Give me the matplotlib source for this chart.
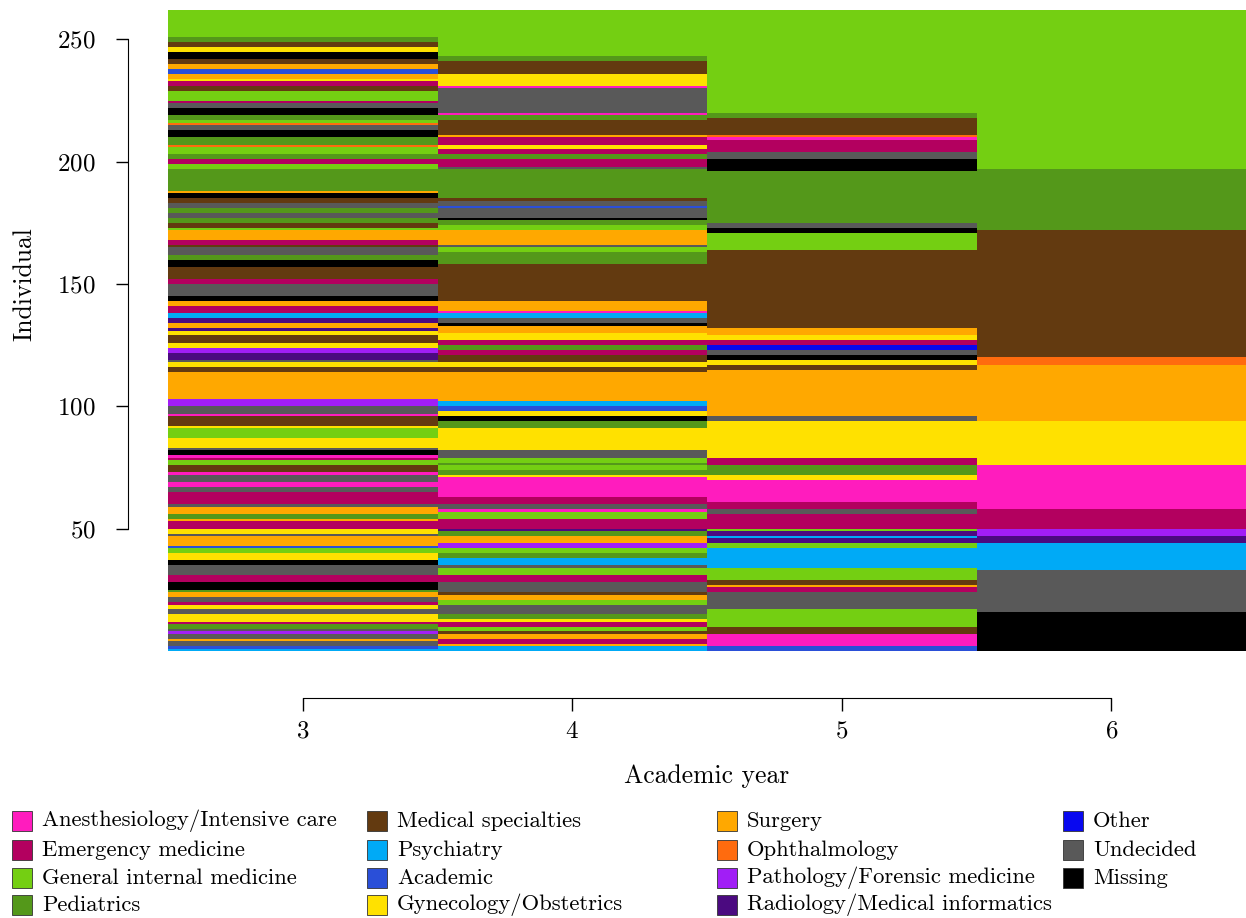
import matplotlib
matplotlib.use("Agg")
import matplotlib.pyplot as plt
from matplotlib.patches import Rectangle

plt.rcParams['font.family'] = ['cmr10', 'DejaVu Serif']
plt.rcParams['axes.formatter.use_mathtext'] = True

# state codes, legend labels and colours
codes = ["A", "E", "G", "P", "M", "S", "C", "Y", "U", "O", "T", "R", "H", "D", "X"]
labels = ["Anesthesiology/Intensive care", "Emergency medicine", "General internal medicine",
          "Pediatrics", "Medical specialties", "Psychiatry", "Academic", "Gynecology/Obstetrics",
          "Surgery", "Ophthalmology", "Pathology/Forensic medicine", "Radiology/Medical informatics",
          "Other", "Undecided", "Missing"]
colors = ["#FF1CBE", "#B3005F", "#74CF12", "#54981A", "#633A10", "#00AAF6", "#2A4FD8", "#FFE100",
          "#FFA800", "#FF6B0E", "#A11EF6", "#4B0A80", "#0808F0", "#595959", "#000000"]

years = [3, 4, 5, 6]

# sequences as runs (state, number of individuals), from individual 1 upwards
year3 = [("S", 1), ("C", 1), ("D", 2), ("U", 1), ("D", 2), ("T", 1), ("D", 1), ("P", 2), ("E", 1),
         ("Y", 3), ("D", 2), ("Y", 2), ("E", 1), ("D", 2), ("U", 2), ("P", 1), ("X", 3), ("E", 3),
         ("D", 3), ("D", 1), ("X", 2), ("Y", 3), ("G", 2), ("C", 1), ("U", 4), ("D", 1), ("Y", 2),
         ("E", 3), ("U", 1), ("P", 2), ("U", 3), ("D", 1), ("E", 5), ("D", 2), ("A", 2), ("D", 3),
         ("A", 1), ("M", 3), ("G", 2), ("E", 1), ("A", 1), ("X", 2), ("D", 1), ("Y", 4), ("G", 4),
         ("Y", 1), ("M", 4), ("A", 1), ("D", 3), ("T", 3), ("U", 11), ("M", 2), ("Y", 2), ("D", 1),
         ("R", 3), ("T", 2), ("Y", 2), ("M", 3), ("Y", 2), ("R", 1), ("U", 2), ("R", 2), ("S", 2),
         ("E", 3), ("U", 2), ("X", 2), ("D", 5), ("E", 2), ("M", 5), ("X", 3), ("P", 2), ("D", 3),
         ("M", 1), ("E", 2), ("U", 4), ("G", 1), ("M", 2), ("P", 2), ("D", 2), ("P", 2), ("D", 2),
         ("M", 2), ("X", 2), ("U", 1), ("P", 9), ("G", 2), ("E", 2), ("P", 2), ("G", 3), ("O", 1),
         ("P", 3), ("X", 3), ("D", 2), ("O", 1), ("G", 1), ("P", 2), ("X", 3), ("D", 2), ("E", 1),
         ("G", 4), ("M", 2), ("E", 2), ("Y", 1), ("U", 2), ("C", 2), ("U", 2), ("M", 2), ("X", 3),
         ("Y", 2), ("M", 2), ("P", 2), ("G", 11)]
year4 = [("S", 2), ("U", 1), ("E", 2), ("U", 2), ("M", 1), ("G", 2), ("E", 2), ("Y", 1), ("P", 2),
         ("D", 4), ("G", 2), ("U", 2), ("M", 1), ("D", 4), ("E", 3), ("G", 3), ("D", 1), ("S", 3),
         ("P", 2), ("G", 2), ("T", 2), ("U", 3), ("P", 2), ("R", 1), ("E", 4), ("G", 3), ("A", 1),
         ("D", 2), ("E", 3), ("A", 8), ("Y", 1), ("P", 2), ("G", 2), ("P", 1), ("G", 2), ("D", 3),
         ("Y", 9), ("P", 3), ("X", 2), ("Y", 2), ("C", 2), ("S", 2), ("U", 12), ("M", 2), ("Y", 2),
         ("M", 3), ("E", 2), ("P", 2), ("E", 2), ("Y", 3), ("U", 3), ("X", 1), ("D", 2), ("S", 2),
         ("A", 1), ("U", 4), ("M", 15), ("P", 5), ("G", 2), ("D", 1), ("U", 6), ("G", 2), ("P", 2),
         ("X", 1), ("D", 4), ("C", 1), ("D", 2), ("M", 1), ("P", 12), ("D", 1), ("E", 3), ("P", 2),
         ("E", 2), ("Y", 2), ("E", 3), ("U", 1), ("M", 6), ("P", 2), ("A", 1), ("D", 10), ("A", 1),
         ("Y", 5), ("M", 5), ("P", 2), ("G", 19)]
year5 = [("C", 2), ("A", 5), ("M", 3), ("G", 7), ("D", 7), ("E", 2), ("U", 1), ("M", 2), ("G", 5),
         ("S", 8), ("G", 2), ("R", 2), ("S", 1), ("R", 2), ("G", 1), ("E", 6), ("D", 2), ("E", 3),
         ("A", 9), ("Y", 2), ("P", 4), ("E", 3), ("Y", 15), ("D", 2), ("U", 4), ("U", 15), ("M", 2),
         ("Y", 2), ("X", 2), ("D", 2), ("H", 2), ("E", 2), ("Y", 2), ("U", 3), ("M", 32), ("G", 7),
         ("X", 2), ("D", 2), ("P", 21), ("X", 5), ("D", 3), ("E", 5), ("A", 1), ("O", 1), ("M", 7),
         ("P", 2), ("G", 42)]
year6 = [("X", 16), ("D", 17), ("S", 11), ("R", 3), ("T", 3), ("E", 8), ("A", 18), ("Y", 18),
         ("U", 23), ("O", 3), ("M", 52), ("P", 25), ("G", 65)]

n_ind = 262
color_of = dict(zip(codes, colors))

fig = plt.figure(figsize=(12.46, 9.18), dpi=100)
ax = fig.add_axes([168 / 1246, 267 / 918, 1078 / 1246, 641 / 918])

for yr, runs in zip(years, [year3, year4, year5, year6]):
    bottom = 0
    for code, n in runs:
        ax.bar(yr, n, bottom=bottom, width=1.0, color=color_of[code], linewidth=0)
        bottom += n

ax.set_xlim(2.5, 6.5)
ax.set_ylim(0, n_ind)
ax.spines['top'].set_visible(False)
ax.spines['right'].set_visible(False)
ax.spines['left'].set_position(('outward', 29))
ax.spines['left'].set_bounds(50, 250)
ax.spines['bottom'].set_position(('outward', 34))
ax.spines['bottom'].set_bounds(3, 6)
ax.set_xticks(years)
ax.set_yticks([50, 100, 150, 200, 250])
ax.tick_params(direction='out', length=9, width=1, labelsize=18)
ax.tick_params(axis='x', pad=7)
ax.tick_params(axis='y', pad=14)
ax.set_xlabel("Academic year", fontsize=18.5)
ax.set_ylabel("Individual", fontsize=18.5)
ax.xaxis.set_label_coords(0.5, -0.195)
ax.xaxis.label.set_va('center')
ax.yaxis.set_label_coords(-0.133, 150 / n_ind)
ax.yaxis.label.set_va('center')

# legend, four columns
col_x = [12, 367, 717, 1063]
row_y = [821, 850, 878, 905]
for i, (lab, col) in enumerate(zip(labels, colors)):
    c, r = divmod(i, 4)
    x0 = col_x[c] / 1246
    y0 = 1 - row_y[r] / 918
    fig.patches.append(Rectangle((x0, y0 - 10 / 918), 20 / 1246, 20 / 918, transform=fig.transFigure,
                                 facecolor=col, edgecolor="#333333", linewidth=0.6))
    fig.text(x0 + 30 / 1246, y0, lab, fontsize=16.3, va='center', ha='left')

fig.savefig("out.png", dpi=100)
